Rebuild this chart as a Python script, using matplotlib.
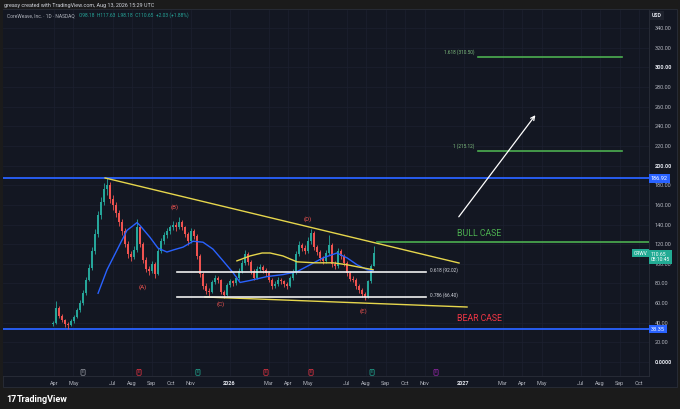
import matplotlib
matplotlib.use("Agg")
import matplotlib.pyplot as plt
import matplotlib.patches as mpatches
import numpy as np

plt.rcParams['font.family'] = ['Roboto', 'DejaVu Sans']

# ---------------- data (x in months since 1 Apr 2025) ----------------
candle_start, candle_end = -0.05, 16.41
first_open = 39
closes = [40, 55, 47, 43, 39, 38, 42, 46, 53, 60, 70, 84, 96, 113, 130, 150, 163, 176, 180, 166,
          160, 152, 143, 133, 120, 110, 107, 114, 137, 120, 104, 95, 93, 100, 90, 113, 123, 129, 133, 137,
          140, 137, 143, 137, 130, 123, 133, 128, 108, 90, 77, 72, 71, 81, 86, 83, 71, 68, 78, 82,
          80, 86, 93, 101, 110, 102, 93, 86, 95, 97, 94, 91, 84, 77, 79, 84, 82, 79, 77, 86,
          92, 110, 119, 116, 113, 123, 131, 117, 112, 106, 103, 111, 119, 100, 98, 113, 108, 101, 91, 85,
          84, 77, 73, 69, 66, 82, 98.18, 110.65]
highs = [42, 62, 57, 49, 44, 41, 44, 48, 55, 63, 73, 87, 100, 117, 135, 154, 168, 182, 186.9, 183,
         170, 163, 155, 146, 136, 123, 113, 118, 146, 139, 122, 107, 98, 103, 102, 116, 126, 132, 136, 140,
         144, 143, 148, 145, 139, 132, 136, 135, 130, 110, 92, 80, 75, 84, 89, 88, 85, 73, 80, 85,
         84, 88, 96, 104, 114, 112, 104, 95, 98, 100, 99, 96, 93, 86, 82, 87, 86, 84, 81, 88,
         95, 113, 123, 121, 119, 127, 135, 133, 119, 114, 108, 114, 129, 121, 103, 116, 115, 110, 103, 93,
         88, 86, 79, 75, 71, 84, 100, 117.63]
lows = [37, 39, 45, 41, 36, 33.4, 37, 40, 45, 51, 58, 68, 82, 94, 110, 127, 146, 160, 170, 162,
        155, 148, 139, 129, 117, 106, 103, 105, 112, 117, 101, 92, 89, 91, 86, 89, 111, 120, 126, 130,
        134, 133, 135, 134, 127, 119, 121, 125, 105, 87, 74, 69, 67, 70, 79, 80, 69, 65, 67, 76,
        77, 78, 84, 91, 99, 99, 90, 83, 85, 93, 91, 88, 81, 74, 75, 77, 79, 76, 74, 76,
        84, 90, 108, 113, 110, 111, 120, 114, 109, 103, 100, 101, 109, 97, 95, 96, 105, 98, 88, 82,
        81, 74, 70, 66, 63, 65, 80, 98.18]

ma_blue_t = [2.26, 2.72, 3.23, 3.74, 4.26, 4.41, 4.92, 5.33, 5.79, 6.10, 6.62, 7.13, 7.64, 8.15,
             8.67, 9.18, 9.54, 10.05, 10.92, 11.74, 12.46, 13.13, 13.79, 14.51, 15.03, 15.54, 16.05, 16.36]
ma_blue_v = [70, 94, 114, 134, 142, 139, 127, 116, 112, 114, 117, 123, 122, 115,
             103, 91, 81, 83, 87, 89, 92, 99, 106, 111, 106, 99, 94, 93]
ma_yellow_t = [9.38, 10.05, 10.67, 11.08, 11.74, 12.46, 13.38, 14.31, 15.03, 15.54, 16.36]
ma_yellow_v = [103, 108, 111, 111, 108, 102, 101, 101, 99, 97, 94]

upper_trend_t, upper_trend_v = [2.62, 20.77], [187.4, 100.8]
lower_trend_t, lower_trend_v = [7.74, 21.18], [66.2, 56.0]
fib_t = [6.31, 19.08]
fib_levels = [92.02, 66.40]
fib_labels = ["0.618 (92.02)", "0.786 (66.40)"]
ext_t = [21.74, 29.13]
ext_levels = [310.50, 215.12]
ext_labels = ["1.618 (310.50)", "1 (215.12)"]
bull_level, bull_start = 122.0, 16.56
ath_level, atl_level = 186.92, 33.35
arrow_t, arrow_v = [20.67, 24.77], [145.6, 253.6]
wave_labels = ["(A)", "(B)", "(C)", "(D)", "(E)"]
wave_t = [4.56, 6.20, 8.56, 13.03, 15.85]
wave_v = [76.4, 157.8, 59.0, 145.6, 52.0]
event_t = [1.49, 4.36, 7.38, 10.87, 13.18, 16.31, 19.59]
event_colors = ["#9598a1", "#f23645", "#22ab94", "#f23645", "#f23645", "#22ab94", "#9c27b0"]

tick_pos = [0, 1, 3, 4, 5, 6, 7, 9, 11, 12, 13, 15, 16, 17, 18, 19, 21, 23, 24, 25, 27, 28, 29, 30]
tick_lab = ["Apr", "May", "Jul", "Aug", "Sep", "Oct", "Nov", "2026", "Mar", "Apr", "May", "Jul",
            "Aug", "Sep", "Oct", "Nov", "2027", "Mar", "Apr", "May", "Jul", "Aug", "Sep", "Oct"]
price_ticks = list(range(0, 360, 20))

last_price, last_label, countdown = 110.65, "CRWV", "08:10:45"

# ---------------- figure ----------------
W, H = 680, 409
BG = "#1b1b1b"
PANEL = "#131722"
GRID = "#1d2130"
TXT = "#b2b5be"
UP, DN = "#26a69a", "#ef5350"

fig = plt.figure(figsize=(6.8, 4.09), dpi=100, facecolor=BG)

def fx(px):
    return px / W

def fy(py):
    return 1 - py / H

# chart panel (drawn below the axes)
panel = mpatches.Rectangle((fx(3), fy(387)), fx(674), 378 / H, transform=fig.transFigure,
                           facecolor=PANEL, edgecolor="#2a2e39", lw=0.6, zorder=-10)
fig.patches.append(panel)

ax = fig.add_axes([fx(3), fy(375.7), fx(646), 366.2 / H])
ax.set_zorder(5)
ax.set_facecolor(PANEL)
ax.set_xlim(-2.615, 30.51)
ax.set_ylim(-13.95, 358.96)

# grid
ax.set_yticks(price_ticks)
ax.set_yticklabels(["0.0000"] + [f"{p:.2f}" for p in price_ticks[1:]])
ax.set_xticks(tick_pos)
ax.set_xticklabels(tick_lab)
ax.grid(True, color=GRID, lw=0.5, zorder=0)
ax.set_axisbelow(True)
ax.yaxis.tick_right()
ax.tick_params(axis='y', length=0, pad=4, labelsize=4, labelcolor=TXT)
ax.tick_params(axis='x', length=0, pad=3.5, labelsize=4, labelcolor=TXT)
for lab in ax.get_yticklabels():
    if lab.get_text() in ("0.0000", "200.00", "300.00"):
        lab.set_color("#e0e3eb")
        lab.set_fontweight("bold")
for lab in ax.get_xticklabels():
    if lab.get_text() in ("2026", "2027"):
        lab.set_color("#e0e3eb")
        lab.set_fontweight("bold")
for s in ["top", "left"]:
    ax.spines[s].set_visible(False)
ax.spines["bottom"].set_color("#2a2e39")
ax.spines["right"].set_color("#2a2e39")
ax.spines["bottom"].set_linewidth(0.6)
ax.spines["right"].set_linewidth(0.6)

# horizontal blue levels
ax.axhline(ath_level, color="#2962ff", lw=1.3, zorder=2)
ax.axhline(atl_level, color="#2962ff", lw=1.3, zorder=2)

# candles
n = len(closes)
xs = np.linspace(candle_start, candle_end, n)
opens = [first_open] + closes[:-1]
o = np.array(opens, float)
c = np.array(closes, float)
cols = [UP if cc >= oo else DN for oo, cc in zip(o, c)]
ax.vlines(xs, lows, highs, colors=cols, lw=0.6, zorder=3)
body_h = np.where(np.abs(c - o) < 0.6, 0.6, c - o)
ax.bar(xs, body_h, bottom=o, width=0.11, color=cols, linewidth=0, zorder=4)

# moving averages
ax.plot(ma_blue_t, ma_blue_v, color="#2962ff", lw=1.0, zorder=5, solid_joinstyle="round")
ax.plot(ma_yellow_t, ma_yellow_v, color="#e6d64c", lw=1.0, zorder=5, solid_joinstyle="round")

# trendlines
ax.plot(upper_trend_t, upper_trend_v, color="#e6d64c", lw=1.0, zorder=5)
ax.plot(lower_trend_t, lower_trend_v, color="#e6d64c", lw=1.0, zorder=5)

# fib retracement lines
for lvl, lab in zip(fib_levels, fib_labels):
    ax.plot(fib_t, [lvl, lvl], color="#f0f0f0", lw=1.2, zorder=6)
    ax.text(fib_t[1] + 0.2, lvl + 2, lab, color="#d1d4dc", fontsize=3.4, ha="left", va="center", zorder=7)

# fib extension (green)
for lvl, lab in zip(ext_levels, ext_labels):
    ax.plot(ext_t, [lvl, lvl], color="#4caf50", lw=1.2, zorder=6)
    ax.text(ext_t[0] - 0.2, lvl + 5, lab, color="#7fbf7f", fontsize=3.4, ha="right", va="center", zorder=7)

# bull / bear case
ax.plot([bull_start, 30.51], [bull_level, bull_level], color="#4caf50", lw=1.2, zorder=6)
ax.text(21.8, 130.5, "BULL CASE", color="#4caf50", fontsize=6.3, ha="center", va="center", zorder=7)
ax.text(21.8, 44.8, "BEAR CASE", color="#f23645", fontsize=6.3, ha="center", va="center", zorder=7)

# arrow
ax.annotate("", xy=(arrow_t[1], arrow_v[1]), xytext=(arrow_t[0], arrow_v[0]),
            arrowprops=dict(arrowstyle="->", color="white", lw=0.9, mutation_scale=7), zorder=7)

# wave labels
for lab, t, v in zip(wave_labels, wave_t, wave_v):
    ax.text(t, v, lab, color="#ef5350", fontsize=4.5, ha="center", va="center", zorder=7)

# event icons along the bottom
for t, col in zip(event_t, event_colors):
    ax.text(t, -10.5, "E", color=col, fontsize=2.8, ha="center", va="center", zorder=8,
            bbox=dict(boxstyle="round,pad=0.25", facecolor=PANEL, edgecolor=col, lw=0.5))

# price axis tags
ytr = ax.get_yaxis_transform()
for lvl in (ath_level, atl_level):
    ax.text(1.003, lvl, f"{lvl:.2f}", transform=ytr, color="white", fontsize=4, ha="left", va="center",
            clip_on=False, zorder=10,
            bbox=dict(boxstyle="square,pad=0.3", facecolor="#2962ff", edgecolor="none"))
ax.text(1.003, last_price + 1.5, f"{last_price:.2f}\n{countdown}", transform=ytr, color="white",
        fontsize=3.6, ha="left", va="top", clip_on=False, zorder=10, linespacing=1.1,
        bbox=dict(boxstyle="square,pad=0.3", facecolor="#22ab94", edgecolor="none"))
ax.text(0.998, last_price, last_label, transform=ytr, color="white", fontsize=3.6, ha="right",
        va="center", clip_on=False, zorder=10,
        bbox=dict(boxstyle="square,pad=0.3", facecolor="#22ab94", edgecolor="none"))

# header texts (above the axes)
fig.text(fx(4), fy(5), "greasy created with TradingView.com, Aug 13, 2026 15:29 UTC",
         color="#d1d4dc", fontsize=3.9, ha="left", va="center", zorder=20)
fig.text(fx(7), fy(15.5), "CoreWeave, Inc. · 1D · NASDAQ", color=TXT, fontsize=3.5,
         ha="left", va="center", zorder=20)
fig.text(fx(79), fy(15.5), "O98.18  H117.63  L98.18  C110.65  +2.03 (+1.88%)", color="#26a69a",
         fontsize=3.5, ha="left", va="center", zorder=20)
fig.text(fx(652), fy(15.5), "USD", color="#e0e3eb", fontsize=3.8, ha="left", va="center",
         fontweight="bold", zorder=20,
         bbox=dict(boxstyle="square,pad=0.3", facecolor="#1e222d", edgecolor="none"))

# footer logo
fig.text(fx(6), fy(399), "17", color="white", fontsize=6.5, fontweight="bold", ha="left", va="center")
fig.text(fx(17), fy(399), "TradingView", color="white", fontsize=6.5, fontweight="bold",
         ha="left", va="center")

fig.savefig("out.png", dpi=100, facecolor=BG)
